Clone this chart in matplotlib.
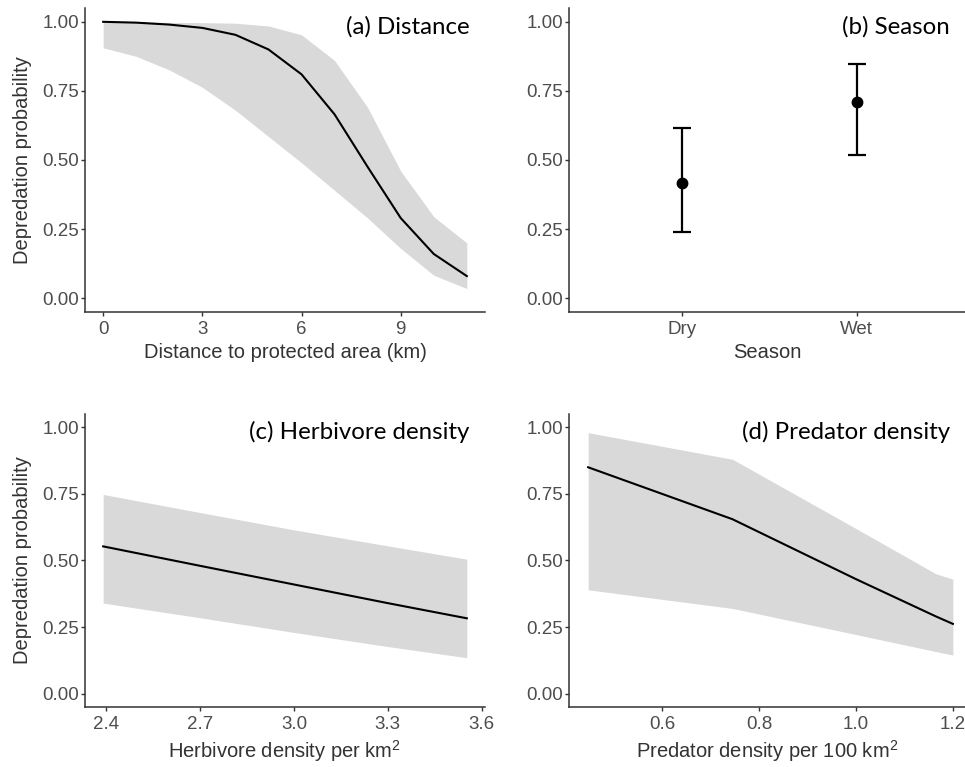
"""
Four-panel depredation probability plot (ggplot-like classic theme).
"""

import matplotlib
matplotlib.use("Agg")
import matplotlib.pyplot as plt
from matplotlib.ticker import FormatStrFormatter

plt.rcParams["font.family"] = ["Liberation Sans", "DejaVu Sans"]
plt.rcParams["mathtext.fontset"] = "custom"
plt.rcParams["mathtext.rm"] = "Liberation Sans"
plt.rcParams["mathtext.it"] = "Liberation Sans"

# (a) distance to protected area
dist_km = [0, 1, 2, 3, 4, 5, 6, 7, 8, 9, 10, 11]
dist_fit = [1.0, 0.997, 0.99, 0.978, 0.953, 0.90, 0.81, 0.665, 0.475, 0.29, 0.16, 0.08]
dist_hi = [1.0, 0.999, 0.998, 0.997, 0.995, 0.985, 0.953, 0.86, 0.69, 0.46, 0.295, 0.20]
dist_lo = [0.906, 0.875, 0.826, 0.763, 0.68, 0.585, 0.49, 0.39, 0.29, 0.18, 0.083, 0.035]

# (b) season
seasons = ["Dry", "Wet"]
season_fit = [0.416, 0.71]
season_hi = [0.617, 0.848]
season_lo = [0.24, 0.518]

# (c) herbivore density
herb = [2.39, 2.7, 3.0, 3.3, 3.553]
herb_fit = [0.553, 0.48, 0.41, 0.34, 0.283]
herb_hi = [0.748, 0.68, 0.615, 0.555, 0.505]
herb_lo = [0.34, 0.285, 0.23, 0.177, 0.135]

# (d) predator density
pred = [0.447, 0.745, 1.0, 1.165, 1.2]
pred_fit = [0.85, 0.655, 0.43, 0.29, 0.262]
pred_hi = [0.98, 0.88, 0.62, 0.45, 0.43]
pred_lo = [0.39, 0.32, 0.222, 0.158, 0.145]

W, H = 965, 767
AXIS_COL = "#333333"
TICK_COL = "#4D4D4D"
BAND_COL = "#D9D9D9"
TICK_SIZE = 13.5
TITLE_SIZE = 14.5


def _add_axes(fig, left, right, top, bottom):
    return fig.add_axes([left / W, 1 - bottom / H, (right - left) / W, (bottom - top) / H])


def _style(ax, ylabel=True):
    for side in ("top", "right"):
        ax.spines[side].set_visible(False)
    for side in ("left", "bottom"):
        ax.spines[side].set_linewidth(1.1)
        ax.spines[side].set_color(AXIS_COL)
    ax.tick_params(length=3, width=1.0, color=AXIS_COL, labelcolor=TICK_COL,
                   labelsize=TICK_SIZE, pad=1.5)
    ax.tick_params(axis="x", pad=3.5)
    ax.set_ylim(-0.05, 1.05)
    ax.set_yticks([0, 0.25, 0.5, 0.75, 1.0])
    ax.yaxis.set_major_formatter(FormatStrFormatter("%.2f"))
    if ylabel:
        ax.set_ylabel("Depredation probability", fontsize=TITLE_SIZE, color=AXIS_COL, labelpad=7)


def _xlabel(ax, text):
    ax.set_xlabel(text, fontsize=TITLE_SIZE, color=AXIS_COL, labelpad=3.5)


def _panel_label(ax, text):
    ax.text(0.962, 0.975, text, transform=ax.transAxes, ha="right", va="top",
            fontsize=17.3, family=["Lato", "DejaVu Sans"], color="black")


def _expand(lo, hi, frac=0.05):
    d = (hi - lo) * frac
    return lo - d, hi + d


fig = plt.figure(figsize=(W / 100, H / 100), dpi=100)

# (a)
ax = _add_axes(fig, 85, 485, 8, 312)
ax.fill_between(dist_km, dist_lo, dist_hi, color=BAND_COL, lw=0)
ax.plot(dist_km, dist_fit, color="black", lw=1.5)
ax.set_xlim(*_expand(min(dist_km), max(dist_km)))
ax.set_xticks([0, 3, 6, 9])
_style(ax)
_xlabel(ax, "Distance to protected area (km)")
_panel_label(ax, "(a) Distance")

# (b)
ax = _add_axes(fig, 569, 965, 8, 312)
xpos = [1, 2]
yerr = [[f - l for f, l in zip(season_fit, season_lo)],
        [h - f for f, h in zip(season_fit, season_hi)]]
ax.errorbar(xpos, season_fit, yerr=yerr, fmt="o", color="black", ms=7.5,
            elinewidth=1.6, capsize=6.5, capthick=1.6)
ax.set_xlim(0.354, 2.62)
ax.set_xticks(xpos)
ax.set_xticklabels(seasons)
_style(ax, ylabel=False)
_xlabel(ax, "Season")
_panel_label(ax, "(b) Season")

# (c)
ax = _add_axes(fig, 85, 485, 414, 707)
ax.fill_between(herb, herb_lo, herb_hi, color=BAND_COL, lw=0)
ax.plot(herb, herb_fit, color="black", lw=1.5)
ax.set_xlim(*_expand(min(herb), max(herb)))
ax.set_xticks([2.4, 2.7, 3.0, 3.3, 3.6])
ax.xaxis.set_major_formatter(FormatStrFormatter("%.1f"))
_style(ax)
_xlabel(ax, "Herbivore density per km$^{2}$")
_panel_label(ax, "(c) Herbivore density")

# (d)
ax = _add_axes(fig, 569, 965, 414, 707)
ax.fill_between(pred, pred_lo, pred_hi, color=BAND_COL, lw=0)
ax.plot(pred, pred_fit, color="black", lw=1.5)
ax.set_xlim(0.4075, 1.225)
ax.set_xticks([0.6, 0.8, 1.0, 1.2])
ax.xaxis.set_major_formatter(FormatStrFormatter("%.1f"))
_style(ax, ylabel=False)
_xlabel(ax, "Predator density per 100 km$^{2}$")
_panel_label(ax, "(d) Predator density")

fig.savefig("out.png", dpi=100)
